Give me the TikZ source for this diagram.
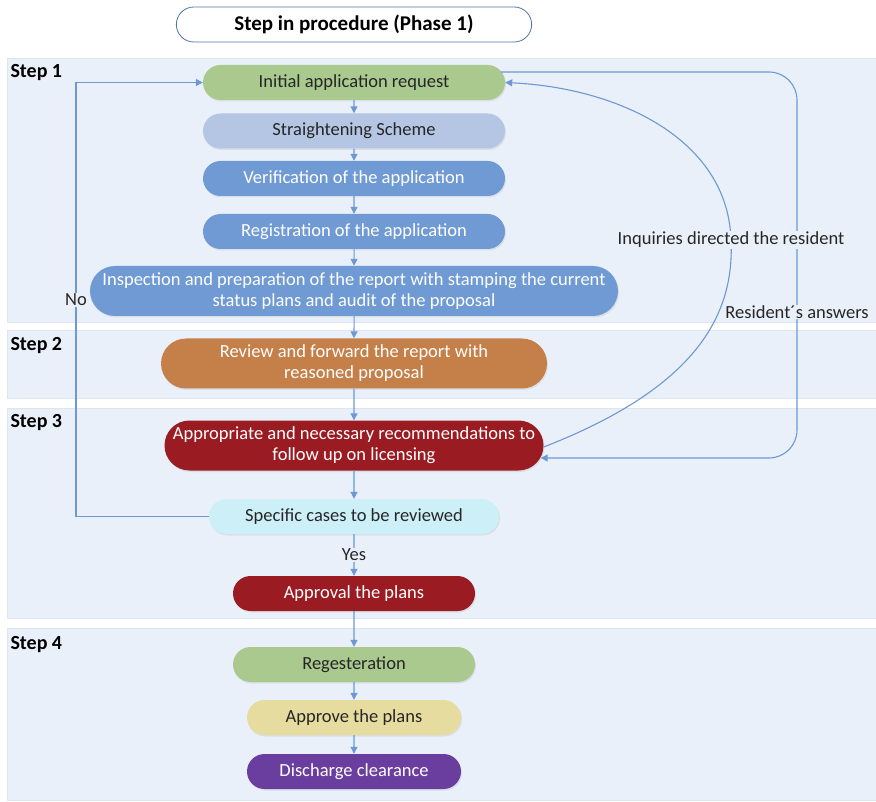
\documentclass[tikz,border=0pt]{standalone}
\usepackage{fontspec}
\setmainfont{Carlito}
\usetikzlibrary{arrows.meta,shapes.misc,shadows}
\definecolor{bandblue}{RGB}{234,240,249}
\definecolor{bandline}{RGB}{221,229,240}
\definecolor{linkblue}{RGB}{108,152,212}
\definecolor{titleline}{RGB}{84,116,170}
\definecolor{stepgreen}{RGB}{169,201,143}
\definecolor{stepgrey}{RGB}{180,198,228}
\definecolor{stepblue}{RGB}{111,154,211}
\definecolor{steporange}{RGB}{197,128,74}
\definecolor{stepred}{RGB}{155,27,34}
\definecolor{stepcyan}{RGB}{204,239,248}
\definecolor{stepyellow}{RGB}{230,220,159}
\definecolor{steppurple}{RGB}{106,62,158}
\definecolor{textdark}{RGB}{38,38,38}
\newcommand{\boxfont}{\fontsize{18.5}{21}\selectfont}
\newcommand{\headfont}{\fontsize{20}{24}\selectfont\bfseries}
\begin{document}
\begin{tikzpicture}[x=1pt,y=-1pt,
  band/.style={fill=bandblue,draw=bandline,line width=0.8pt},
  pill/.style={shape=rounded rectangle,fill=#1,draw=none,minimum height=35pt,
    inner sep=0pt,align=center,font=\boxfont,text=textdark,
    drop shadow={shadow xshift=1pt,shadow yshift=-1.5pt,opacity=0.15}},
  flow/.style={draw=linkblue,line width=1.1pt,-{Triangle[length=7pt,width=7pt]}},
  lbl/.style={fill=bandblue,inner sep=1pt,font=\boxfont,text=textdark},
  steplbl/.style={anchor=west,font=\headfont,text=black}]
\useasboundingbox (0,0) rectangle (876,802);
% step bands
\draw[band] (7,58) rectangle (876,322);
\draw[band] (7,330) rectangle (876,398);
\draw[band] (7,408) rectangle (876,618);
\draw[band] (7,628) rectangle (876,800);
\node[steplbl] (s1) at (7,73) {Step 1};
\node[steplbl] (s2) at (7,346) {Step 2};
\node[steplbl] (s3) at (7,423) {Step 3};
\node[steplbl] (s4) at (7,645) {Step 4};
% title
\node[shape=rounded rectangle,draw=titleline,fill=white,line width=0.8pt,
  minimum width=362pt,minimum height=35pt,font=\fontsize{21}{24}\selectfont\bfseries] (title) at (354,24.5)
  {Step in procedure (Phase 1)};
% boxes
\node[pill=stepgreen,minimum width=302pt] (init) at (354,82.5) {Initial application request};
\node[pill=stepgrey,minimum width=302pt] (straight) at (354,131) {Straightening Scheme};
\node[pill=stepblue,minimum width=302pt,text=white] (verif) at (354,178.5) {Verification of the application};
\node[pill=stepblue,minimum width=302pt,text=white] (regis) at (354,231.5) {Registration of the application};
\node[pill=stepblue,minimum width=528pt,minimum height=50pt,text=white] (insp) at (354,291)
  {Inspection and preparation of the report with stamping the current\\status plans and audit of the proposal};
\node[pill=steporange,minimum width=386pt,minimum height=50pt,text=white] (review) at (354,363.5)
  {Review and forward the report with\\reasoned proposal};
\node[pill=stepred,minimum width=379pt,minimum height=50pt,text=white] (approp) at (354,445.5)
  {Appropriate and necessary recommendations to\\follow up on licensing};
\node[pill=stepcyan,minimum width=290pt] (specific) at (354,516.5) {Specific cases to be reviewed};
\node[pill=stepred,minimum width=242pt,text=white] (approval) at (354,593.5) {Approval the plans};
\node[pill=stepgreen,minimum width=242pt] (regest) at (354,664.5) {Regesteration};
\node[pill=stepyellow,minimum width=214pt] (approve) at (354,717.5) {Approve the plans};
\node[pill=steppurple,minimum width=214pt,text=white] (discharge) at (354,771.5) {Discharge clearance};
% straight arrows
\draw[flow] (init) -- (straight);
\draw[flow] (straight) -- (verif);
\draw[flow] (verif) -- (regis);
\draw[flow] (regis) -- (insp);
\draw[flow] (insp) -- (review);
\draw[flow] (review) -- (approp);
\draw[flow] (approp) -- (specific);
\draw[flow] (specific) -- node[lbl] (yes) {Yes} (approval);
\draw[flow] (approval) -- (regest);
\draw[flow] (regest) -- (approve);
\draw[flow] (approve) -- (discharge);
% loops
\coordinate (noC) at (76,300);
\draw[flow] (specific.west) -| (noC) |- (init.west);
\node[lbl] (no) at (noC) {No};
\coordinate (ansC) at (797,458);
\draw[flow,rounded corners=28pt] ([xshift=-4pt,yshift=10.5pt]init.east) -| (ansC)
  -- ([xshift=-3pt,yshift=-12.5pt]approp.east);
\node[lbl] (answers) at (797,312) {Resident´s answers};
\coordinate (inqC) at (731,240);
\draw[flow] ([yshift=-1.5pt]approp.east) .. controls (690,390) and (735,320) .. (inqC)
  .. controls (728,140) and (620,88) .. (init.east);
\node[lbl] (inquiry) at (inqC) {Inquiries directed the resident};
\end{tikzpicture}
\end{document}
